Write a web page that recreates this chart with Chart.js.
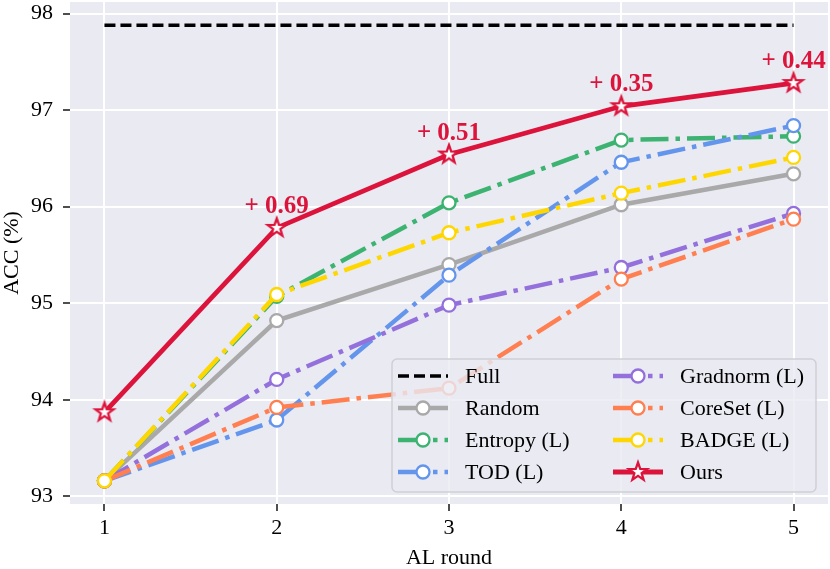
<!DOCTYPE html>
<html>
<head>
<meta charset="utf-8">
<script src="https://cdn.jsdelivr.net/npm/chart.js@4.4.0/dist/chart.umd.min.js"></script>
<style>
  html, body { margin: 0; padding: 0; background: #fff; }
</style>
</head>
<body>
<canvas id="accChart" width="830" height="569"></canvas>
<script>
// data
const rounds = [1, 2, 3, 4, 5];
const full = [97.88, 97.88, 97.88, 97.88, 97.88];
const random = [93.16, 94.82, 95.40, 96.02, 96.34];
const entropy = [93.16, 95.07, 96.04, 96.69, 96.73];
const tod = [93.16, 93.79, 95.29, 96.46, 96.84];
const gradnorm = [93.16, 94.21, 94.98, 95.37, 95.93];
const coreset = [93.16, 93.92, 94.12, 95.25, 95.87];
const badge = [93.16, 95.09, 95.73, 96.14, 96.51];
const ours = [93.87, 95.78, 96.54, 97.04, 97.28];
const gains = ['', '+ 0.69', '+ 0.51', '+ 0.35', '+ 0.44'];
const xTicks = [1, 2, 3, 4, 5];
const yTicks = [93, 94, 95, 96, 97, 98];

const SERIF = '"Liberation Serif", "DejaVu Serif", serif';
const DASHDOT = [28, 7, 4.5, 7];

function makeStar(r, lw, stroke) {
    const s = Math.ceil(2 * (r + lw)) + 2;
    const c = document.createElement('canvas');
    c.width = s; c.height = s;
    const g = c.getContext('2d');
    g.translate(s / 2, s / 2);
    g.beginPath();
    for (let k = 0; k < 10; k++) {
        const rr = k % 2 ? r * 0.4 : r;
        const a = -Math.PI / 2 + k * Math.PI / 5;
        g.lineTo(rr * Math.cos(a), rr * Math.sin(a));
    }
    g.closePath();
    g.fillStyle = '#fff';
    g.fill();
    g.lineWidth = lw;
    g.strokeStyle = stroke;
    g.lineJoin = 'miter';
    g.stroke();
    return c;
}
const star = makeStar(9.5, 2.3, '#DC143C');

const series = [
    { label: 'Full', values: full, color: '#000000', dash: [11, 5], width: 3.5, marker: null },
    { label: 'Random', values: random, color: '#A9A9A9', dash: [], width: 4.5, marker: 'circle' },
    { label: 'Entropy (L)', values: entropy, color: '#3CB371', dash: DASHDOT, width: 4.5, marker: 'circle' },
    { label: 'TOD (L)', values: tod, color: '#6495ED', dash: DASHDOT, width: 4.5, marker: 'circle' },
    { label: 'Gradnorm (L)', values: gradnorm, color: '#9370DB', dash: DASHDOT, width: 4.5, marker: 'circle' },
    { label: 'CoreSet (L)', values: coreset, color: '#FF7F50', dash: DASHDOT, width: 4.5, marker: 'circle' },
    { label: 'BADGE (L)', values: badge, color: '#FFD700', dash: DASHDOT, width: 4.5, marker: 'circle' },
    { label: 'Ours', values: ours, color: '#DC143C', dash: [], width: 4.8, marker: 'star' }
];

const datasets = series.map((s, i) => ({
    label: s.label,
    data: rounds.map((r, j) => ({ x: r, y: s.values[j] })),
    borderColor: s.color,
    borderWidth: s.width,
    borderDash: s.dash,
    borderCapStyle: 'butt',
    tension: 0,
    fill: false,
    order: series.length - i,
    pointStyle: s.marker === 'star' ? star : 'circle',
    pointRadius: s.marker ? (s.marker === 'star' ? 8 : 6.5) : 0,
    pointBackgroundColor: '#ffffff',
    pointBorderColor: s.color,
    pointBorderWidth: 2.3
}));

// grey plot background
const plotBg = {
    id: 'plotBg',
    beforeDraw(chart) {
        const { ctx, chartArea: a } = chart;
        ctx.save();
        ctx.fillStyle = '#EAEAF2';
        ctx.fillRect(a.left, a.top, a.right - a.left, a.bottom - a.top);
        ctx.restore();
    }
};

// "+ x.xx" labels above our points
const gainLabels = {
    id: 'gainLabels',
    afterDatasetsDraw(chart) {
        const { ctx, scales } = chart;
        ctx.save();
        ctx.font = 'bold 25px ' + SERIF;
        ctx.fillStyle = '#DC143C';
        ctx.textAlign = 'center';
        ctx.textBaseline = 'alphabetic';
        gains.forEach((t, i) => {
            if (!t) return;
            const px = scales.x.getPixelForValue(rounds[i]);
            const py = scales.y.getPixelForValue(ours[i]);
            ctx.fillText(t, px, py - 15);
        });
        ctx.restore();
    }
};

// two-column legend in the lower right, like matplotlib's
const boxLegend = {
    id: 'boxLegend',
    afterDraw(chart) {
        const { ctx } = chart;
        ctx.save();
        ctx.beginPath();
        ctx.roundRect(392, 359, 424, 133, 5);
        ctx.fillStyle = 'rgba(234,234,242,0.8)';
        ctx.fill();
        ctx.lineWidth = 1.5;
        ctx.strokeStyle = '#cfcfd6';
        ctx.stroke();

        series.forEach((s, i) => {
            const col = i < 4 ? 0 : 1;
            const row = i % 4;
            const cy = 376 + row * 32;
            const x0 = col ? 613 : 398;
            ctx.beginPath();
            ctx.setLineDash(s.dash);
            ctx.lineCap = 'butt';
            ctx.lineWidth = s.width;
            ctx.strokeStyle = s.color;
            ctx.moveTo(x0, cy);
            ctx.lineTo(x0 + 50, cy);
            ctx.stroke();
            ctx.setLineDash([]);
            const mx = x0 + 25;
            if (s.marker === 'circle') {
                ctx.beginPath();
                ctx.arc(mx, cy, 6.5, 0, Math.PI * 2);
                ctx.fillStyle = '#fff';
                ctx.fill();
                ctx.lineWidth = 2.3;
                ctx.strokeStyle = s.color;
                ctx.stroke();
            } else if (s.marker === 'star') {
                ctx.drawImage(star, mx - star.width / 2, cy - star.height / 2);
            }
            ctx.fillStyle = '#000';
            ctx.font = '22px ' + SERIF;
            ctx.textAlign = 'left';
            ctx.textBaseline = 'middle';
            ctx.fillText(s.label, col ? 680 : 465, cy + 1);
        });
        ctx.restore();
    }
};

new Chart(document.getElementById('accChart').getContext('2d'), {
    type: 'line',
    data: { datasets: datasets },
    options: {
        responsive: false,
        animation: false,
        layout: { autoPadding: false, padding: { left: 0, right: 2, top: 2, bottom: 0 } },
        plugins: {
            legend: { display: false },
            tooltip: { enabled: false }
        },
        scales: {
            x: {
                type: 'linear',
                min: 0.8,
                max: 5.2,
                afterFit: s => { s.height = 65; s.paddingLeft = 0; s.paddingRight = 0; },
                afterBuildTicks: s => { s.ticks = xTicks.map(v => ({ value: v })); },
                grid: { color: '#ffffff', lineWidth: 2, tickColor: '#222', tickLength: 7, tickWidth: 1.6 },
                border: { display: false },
                ticks: { color: '#000', padding: 4, font: { family: SERIF, size: 22 }, callback: v => String(v) },
                title: { display: true, text: 'AL round', color: '#000', padding: 0, font: { family: SERIF, size: 22, lineHeight: 1 } }
            },
            y: {
                min: 92.92,
                max: 98.12,
                afterFit: s => { s.width = 70; s.paddingTop = 0; s.paddingBottom = 0; },
                afterBuildTicks: s => { s.ticks = yTicks.map(v => ({ value: v })); },
                grid: { color: '#ffffff', lineWidth: 2, tickColor: '#222', tickLength: 7, tickWidth: 1.6 },
                border: { display: false },
                ticks: { color: '#000', padding: 10, font: { family: SERIF, size: 22 }, callback: v => String(v) },
                title: { display: true, text: 'ACC (%)', color: '#000', padding: { top: 1, bottom: 0 }, font: { family: SERIF, size: 22, lineHeight: 1 } }
            }
        }
    },
    plugins: [plotBg, gainLabels, boxLegend]
});
</script>
</body>
</html>
